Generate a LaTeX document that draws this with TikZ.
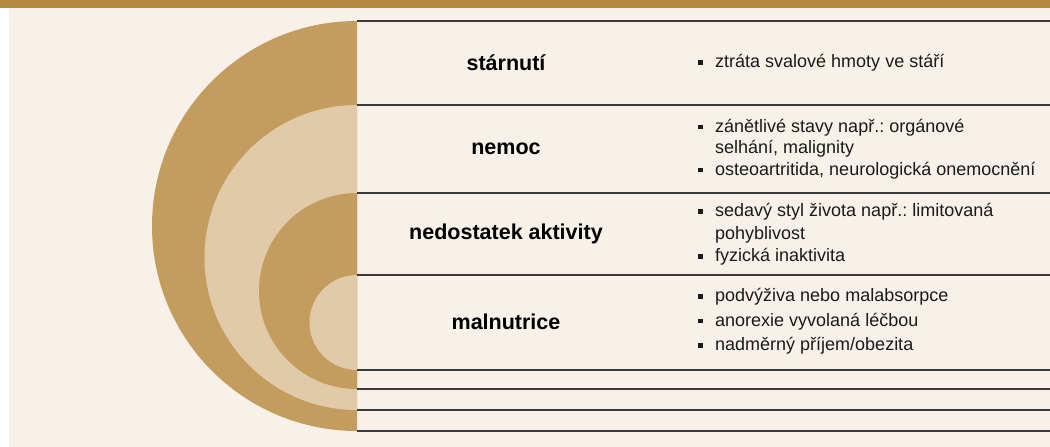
\documentclass[tikz,border=0pt]{standalone}
\usepackage{fontspec}
\setmainfont{Liberation Sans}
\usetikzlibrary{positioning}
\definecolor{barbrown}{HTML}{B58A40}
\definecolor{ringdark}{HTML}{C49C5E}
\definecolor{ringlight}{HTML}{E1CAA9}
\definecolor{paper}{HTML}{F8F1EA}
\definecolor{rulegray}{HTML}{3A3A3A}
\definecolor{inkblack}{HTML}{1A1A1A}
\newcommand{\bul}{\makebox[17pt][l]{\rule[0.3ex]{4.5pt}{4.5pt}}}
\newcommand{\ind}{\makebox[17pt][l]{\strut}}
\frenchspacing

\begin{document}
\begin{tikzpicture}[x=1pt,y=-1pt,
  cat/.style={text=black,font=\bfseries\fontsize{21.5}{24}\selectfont},
  items/.style={anchor=west,align=left,inner sep=0pt,text=inkblack,font=\fontsize{18}{21.5}\selectfont}]
  \useasboundingbox (0,0) rectangle (1050,447);
  \fill[paper] (9,8) rectangle (1050,447);
  \fill[barbrown] (0,0) rectangle (1050,8);
  % half rings
  \fill[ringdark] (357,21) arc[start angle=90,end angle=270,radius=205pt] -- cycle;
  \fill[ringlight] (357,105) arc[start angle=90,end angle=270,radius=152.5pt] -- cycle;
  \fill[ringdark] (357,193) arc[start angle=90,end angle=270,radius=98pt] -- cycle;
  \fill[ringlight] (357,275) arc[start angle=90,end angle=270,radius=47.5pt] -- cycle;
  % rules
  \foreach \y in {21,105,193,275,370,389,410,431}
    \draw[rulegray,line width=1.2pt] (357,\y) -- (1050,\y);
  % labels
  \node[cat] (starnuti) at (506,63) {stárnutí};
  \node[cat] (nemoc) at (506,149) {nemoc};
  \node[cat] (aktivita) at (506,234) {nedostatek aktivity};
  \node[cat] (malnutrice) at (506,322) {malnutrice};
  % lists
  \node[items] (starnutiList) at (698,63) {\bul ztráta svalové hmoty ve stáří};
  \node[items] (nemocList) at (698,149) {\bul zánětlivé stavy např.: orgánové\\
    \ind selhání, malignity\\
    \bul osteoartritida, neurologická onemocnění};
  \node[items,font=\fontsize{18}{22.5}\selectfont] (aktivitaList) at (698,234.5) {\bul sedavý styl života např.: limitovaná\\
    \ind pohyblivost\\
    \bul fyzická inaktivita};
  \node[items,font=\fontsize{18}{24.5}\selectfont] (malnutriceList) at (698,321.5) {\bul podvýživa nebo malabsorpce\\
    \bul anorexie vyvolaná léčbou\\
    \bul nadměrný příjem/obezita};
\end{tikzpicture}
\end{document}
